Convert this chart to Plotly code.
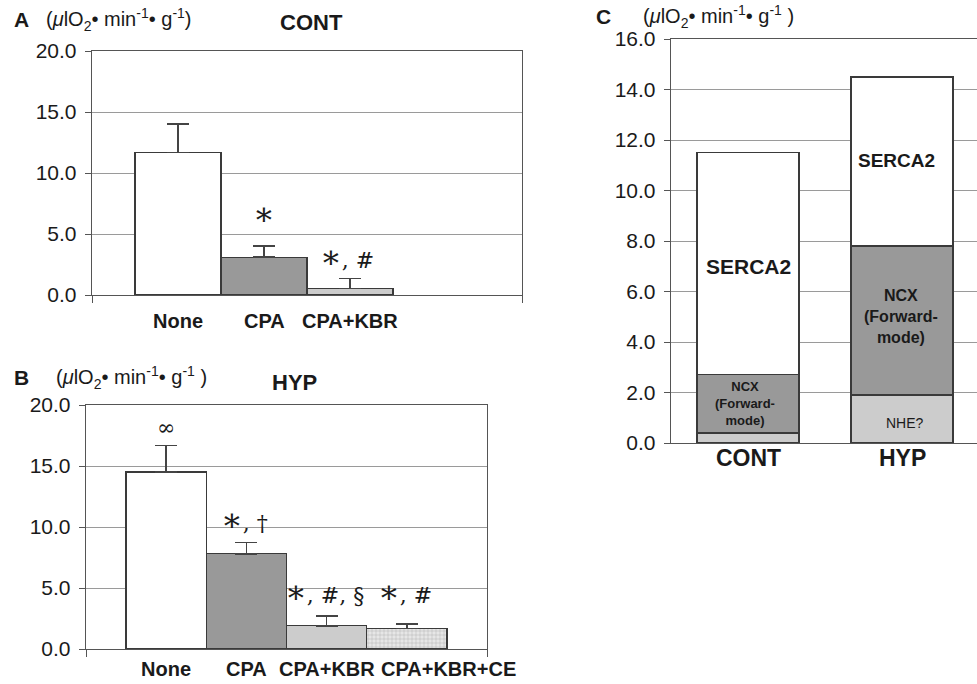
import plotly.graph_objects as go

# ---------------- data ----------------
a_categories = ["None", "CPA", "CPA+KBR"]
a_values = [11.7, 3.1, 0.55]
a_err = [2.3, 0.9, 0.8]
a_sig = ["", "∗", "∗, #"]

b_categories = ["None", "CPA", "CPA+KBR", "CPA+KBR+CE"]
b_values = [14.5, 7.8, 1.9, 1.7]
b_err = [2.2, 0.95, 0.8, 0.35]
b_sig = ["∞", "∗, †", "∗, #, §", "∗, #"]

c_categories = ["CONT", "HYP"]
c_nhe = [0.4, 1.9]
c_ncx = [2.3, 5.9]
c_serca = [8.8, 6.7]

ab_ticks = [0, 5, 10, 15, 20]
c_ticks = [0, 2, 4, 6, 8, 10, 12, 14, 16]

# ---------------- style ----------------
W, H = 977, 684
FONT = "Liberation Sans, Arial, Helvetica, sans-serif"
SERIF = "DejaVu Serif, Liberation Serif, Times New Roman, serif"
DARK = "#999999"
LIGHT = "#cccccc"
LIGHTER = "#e6e6e6"
EDGE = "#3a3a3a"
GRID = "#9a9a9a"
AXIS = "#555555"
TXT = "#1a1a1a"


def px(x):
    return x / W


def py(y):
    return 1 - y / H


unit = "(<i>μ</i>lO<sub>2</sub>• min<sup>-1</sup>• g<sup>-1</sup>)"
unit2 = "(<i>μ</i>lO<sub>2</sub>• min<sup>-1</sup>• g<sup>-1</sup> )"

fig = go.Figure()

# Panel A
fig.add_trace(go.Bar(
    x=list(range(len(a_values))), y=a_values, width=1.0,
    marker=dict(color=["white", DARK, LIGHT], line=dict(color=EDGE, width=1.3)),
    error_y=dict(type="data", symmetric=False, array=a_err,
                 arrayminus=[0] * len(a_err), color="#444", thickness=1.5, width=11),
    xaxis="x", yaxis="y", showlegend=False, hoverinfo="skip"))

# Panel B
fig.add_trace(go.Bar(
    x=list(range(len(b_values))), y=b_values, width=1.0,
    marker=dict(color=["white", DARK, LIGHT, LIGHTER],
                line=dict(color=EDGE, width=1.3),
                pattern=dict(shape=["", "", "", "+"], fgcolor="#d2d2d2",
                             size=4, solidity=0.15)),
    error_y=dict(type="data", symmetric=False, array=b_err,
                 arrayminus=[0] * len(b_err), color="#444", thickness=1.5, width=11),
    xaxis="x2", yaxis="y2", showlegend=False, hoverinfo="skip"))

# Panel C (stacked)
for vals, col in [(c_nhe, LIGHT), (c_ncx, DARK), (c_serca, "white")]:
    fig.add_trace(go.Bar(
        x=list(range(len(c_categories))), y=vals, width=0.662,
        marker=dict(color=col, line=dict(color=EDGE, width=1.3)),
        xaxis="x3", yaxis="y3", showlegend=False, hoverinfo="skip"))

common_y = dict(showgrid=True, gridcolor=GRID, gridwidth=1, showline=True,
                linecolor=AXIS, linewidth=1.3, ticks="outside", ticklen=6,
                tickcolor=AXIS, tickformat=".1f", zeroline=False, automargin=False,
                tickfont=dict(family=FONT, size=21, color=TXT), ticklabelstandoff=4)
common_x = dict(showgrid=False, showline=True, linecolor=AXIS, linewidth=1.3,
                zeroline=False, showticklabels=False, automargin=False)

fig.update_layout(
    width=W, height=H, autosize=False,
    margin=dict(l=0, r=0, t=0, b=0, pad=0, autoexpand=False),
    paper_bgcolor="white", plot_bgcolor="white",
    barmode="stack", bargap=0,
    font=dict(family=FONT, color=TXT),
    xaxis=dict(domain=[px(92), px(522)], range=[-1, 4], mirror=True,
               tickvals=[-1, 4], ticks="outside", ticklen=7, tickcolor=AXIS,
               anchor="y", **common_x),
    yaxis=dict(domain=[py(295), py(51)], range=[0, 20], tickvals=ab_ticks,
               mirror=True, anchor="x", **common_y),
    xaxis2=dict(domain=[px(86), px(487)], range=[-1, 4], mirror=True,
                tickvals=[-1, 4], ticks="outside", ticklen=7, tickcolor=AXIS,
                anchor="y2", **common_x),
    yaxis2=dict(domain=[py(649), py(405)], range=[0, 20], tickvals=ab_ticks,
                mirror=True, anchor="x2", **common_y),
    xaxis3=dict(domain=[px(671), 1.0], range=[-0.5, 1.487], mirror=True,
                ticks="", anchor="y3", **common_x),
    yaxis3=dict(domain=[py(443), py(39)], range=[0, 16], tickvals=c_ticks,
                anchor="x3", **common_y),
)

ann = []


def text(x, y, s, size, xref="paper", yref="paper", bold=False, family=FONT,
         xanchor="center", xshift=0, yshift=0):
    ann.append(dict(x=x, y=y, xref=xref, yref=yref, text=f"<b>{s}</b>" if bold else s,
                    showarrow=False, xanchor=xanchor, yanchor="middle",
                    xshift=xshift, yshift=yshift, align="center",
                    font=dict(family=family, size=size, color=TXT)))


def big_ast(s):
    return s.replace("∗", '<span style="font-size:32px">∗</span>')


# panel headers
text(px(12), py(20), "A", 21, bold=True, xanchor="left")
text(px(44), py(20), unit, 20, xanchor="left")
text(px(311), py(22), "CONT", 22, bold=True)
text(px(12), py(377), "B", 21, bold=True, xanchor="left")
text(px(54), py(377), unit2, 20, xanchor="left")
text(px(294), py(382), "HYP", 22, bold=True)
text(px(594), py(16), "C", 21, bold=True, xanchor="left")
text(px(641), py(16), unit2, 20, xanchor="left")

# category labels A
for i, c in enumerate(a_categories):
    text(i, 0, c, 20, xref="x", yref="y", bold=True, yshift=-26)
# category labels B (last one offset to the right as in the original)
for i, c in enumerate(b_categories):
    text(i, 0, c, 20, xref="x2", yref="y2", bold=True, yshift=-20,
         xshift=42 if i == len(b_categories) - 1 else 0)
# category labels C
for i, c in enumerate(c_categories):
    text(i, 0, c, 23, xref="x3", yref="y3", bold=True, yshift=-15)

# significance marks
a_sig_shift = [0, 32, 22]
for i, s in enumerate(a_sig):
    if not s:
        continue
    text(i, a_values[i] + a_err[i], big_ast(s), 22, xref="x", yref="y", family=SERIF,
         yshift=a_sig_shift[i], xshift=-3 if i == 2 else 0)
b_sig_shift = [18, 22, 24, 32]
for i, s in enumerate(b_sig):
    text(i, b_values[i] + b_err[i], big_ast(s), 22, xref="x2", yref="y2", family=SERIF,
         yshift=b_sig_shift[i], xshift=-2 if i > 0 else 0)

# labels inside panel C
text(0, 7.0, "SERCA2", 21, xref="x3", yref="y3", bold=True)
text(1, 11.2, "SERCA2", 19, xref="x3", yref="y3", bold=True, xshift=-6)
text(0, 1.55, "NCX<br>(Forward-<br>mode)", 13, xref="x3", yref="y3", bold=True, xshift=-3)
text(1, 5.0, "NCX<br>(Forward-<br>mode)", 16, xref="x3", yref="y3", bold=True, xshift=-1)
text(1, 0.8, "NHE?", 14, xref="x3", yref="y3", xshift=3)

fig.update_layout(annotations=ann)
fig.write_html(
    "out.html",
    config={"displayModeBar": False, "staticPlot": True},
    post_script="document.body.style.margin='0';"
                "document.documentElement.style.overflow='hidden';"
                "document.body.style.overflow='hidden';",
)
